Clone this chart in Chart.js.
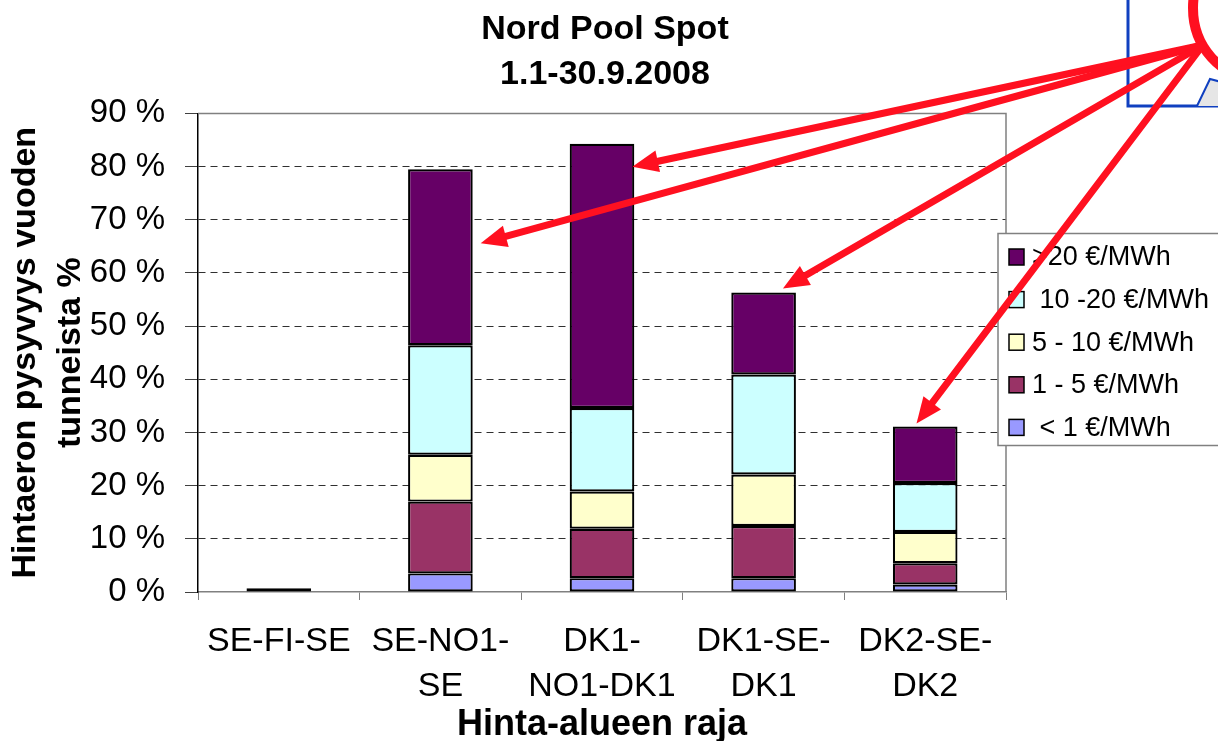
<!DOCTYPE html>
<html><head><meta charset="utf-8">
<script src="https://cdn.jsdelivr.net/npm/chart.js@4/dist/chart.umd.min.js"></script>
<style>html,body{margin:0;padding:0;background:#fff;}#wrap{width:1218px;height:741px;}</style>
</head><body><div id="wrap"><canvas id="c" width="1218" height="741"></canvas></div>
<script>
// ---- data ----
const categories = ['SE-FI-SE', ['SE-NO1-', 'SE'], ['DK1-', 'NO1-DK1'], ['DK1-SE-', 'DK1'], ['DK2-SE-', 'DK2']];
const seriesLabels = [' < 1 €/MWh', '1 - 5 €/MWh', '5 - 10 €/MWh', ' 10 -20 €/MWh', '>20 €/MWh'];
const below1     = [0.7, 3.5, 2.6, 2.6, 1.4];
const from1to5   = [0, 13.5, 9.3, 9.8, 4.0];
const from5to10  = [0, 8.8, 7.0, 9.7, 5.9];
const from10to20 = [0, 20.6, 15.7, 18.8, 9.2];
const above20    = [0, 33.1, 49.7, 15.4, 10.6];
const yTickValues = [0, 10, 20, 30, 40, 50, 60, 70, 80, 90];
const titleLines = ['Nord Pool Spot', '1.1-30.9.2008'];
const yTitleLines = ['Hintaeron pysyvyys vuoden', 'tunneista %'];
const xTitle = 'Hinta-alueen raja';

const seriesValues = [below1, from1to5, from5to10, from10to20, above20];
const seriesColors = ['#9999FF', '#993366', '#FFFFCC', '#CCFFFF', '#660066'];
const FONT = "'Liberation Sans', Arial, sans-serif";

const datasets = seriesValues.map((vals, i) => ({
  label: seriesLabels[i],
  data: vals,
  backgroundColor: seriesColors[i],
  borderColor: '#000',
  borderWidth: 2.2,
  borderSkipped: false,
  categoryPercentage: 1.0,
  barPercentage: 0.4,
  yAxisID: 'y'
}));

const frame = {
  id: 'frame',
  beforeDatasetsDraw(chart) {
    const {ctx, chartArea: a} = chart;
    ctx.save();
    ctx.strokeStyle = '#808080';
    ctx.lineWidth = 1.5;
    ctx.beginPath();
    ctx.moveTo(a.left, a.top); ctx.lineTo(a.right, a.top); ctx.lineTo(a.right, a.bottom);
    ctx.stroke();
    ctx.restore();
  }
};

function arrow(ctx, x0, y0, x1, y1) {
  const ang = Math.atan2(y1 - y0, x1 - x0);
  const L = 26, W = 11;
  const bx = x1 - L * Math.cos(ang), by = y1 - L * Math.sin(ang);
  ctx.beginPath();
  ctx.moveTo(x0, y0);
  ctx.lineTo(bx + 2 * Math.cos(ang), by + 2 * Math.sin(ang));
  ctx.stroke();
  ctx.beginPath();
  ctx.moveTo(x1, y1);
  ctx.lineTo(bx + W * Math.sin(ang), by - W * Math.cos(ang));
  ctx.lineTo(bx - W * Math.sin(ang), by + W * Math.cos(ang));
  ctx.closePath();
  ctx.fill();
}

const annot = {
  id: 'annot',
  afterDraw(chart) {
    const {ctx, chartArea: a} = chart;
    ctx.save();
    // legend box
    const lx = a.right - 8, ly = 233.5, lw = 240, lh = 212;
    ctx.fillStyle = '#fff';
    ctx.fillRect(lx, ly, lw, lh);
    ctx.strokeStyle = '#808080';
    ctx.lineWidth = 1.5;
    ctx.strokeRect(lx, ly, lw, lh);
    const ds = chart.data.datasets;
    ctx.font = '27px ' + FONT;
    ctx.textBaseline = 'middle';
    ctx.textAlign = 'left';
    for (let k = 0; k < ds.length; k++) {
      const d = ds[ds.length - 1 - k];
      const cy = ly + 23.5 + k * 42.6;
      ctx.fillStyle = d.backgroundColor;
      ctx.fillRect(lx + 11, cy - 8, 15, 16);
      ctx.strokeStyle = '#000';
      ctx.lineWidth = 1.5;
      ctx.strokeRect(lx + 11, cy - 8, 15, 16);
      ctx.fillStyle = '#000';
      ctx.fillText(d.label, lx + 34, cy + 1);
    }
    // blue box at top right
    ctx.strokeStyle = '#1040C0';
    ctx.lineWidth = 3;
    ctx.beginPath();
    ctx.moveTo(1128, -5); ctx.lineTo(1128, 106); ctx.lineTo(1225, 106);
    ctx.stroke();
    ctx.beginPath();
    ctx.moveTo(1197, 106); ctx.lineTo(1210, 79); ctx.lineTo(1225, 83); ctx.lineTo(1225, 106); ctx.closePath();
    ctx.fillStyle = '#E6E6E6';
    ctx.fill();
    ctx.lineWidth = 2;
    ctx.beginPath();
    ctx.moveTo(1197, 106); ctx.lineTo(1210, 79); ctx.lineTo(1225, 83);
    ctx.stroke();
    // red ellipse
    ctx.strokeStyle = '#FF1020';
    ctx.lineWidth = 10;
    ctx.beginPath();
    ctx.ellipse(1256, 8, 63, 70, 0, 0, Math.PI * 2);
    ctx.stroke();
    // arrows to bar tops
    const meta = chart.getDatasetMeta(ds.length - 1);
    const offs = [null, [8, 74], [-2, 23], [-13, -4], [-41, -3]];
    ctx.fillStyle = '#FF1020';
    ctx.lineWidth = 7;
    ctx.lineCap = 'round';
    offs.forEach((o, i) => {
      if (!o) return;
      const el = meta.data[i];
      const right = el.x + el.width / 2;
      arrow(ctx, 1203, 45, right + o[0], el.y + o[1]);
    });
    ctx.restore();
  }
};

new Chart(document.getElementById('c'), {
  type: 'bar',
  data: { labels: categories, datasets },
  options: {
    responsive: false,
    animation: false,
    devicePixelRatio: 1,
    layout: { padding: { left: 0, right: 8, top: 0, bottom: 0 } },
    plugins: {
      legend: { display: false },
      tooltip: { enabled: false },
      title: {
        display: true,
        text: titleLines,
        color: '#000',
        font: { family: FONT, size: 34, weight: 'bold', lineHeight: 1.3 },
        padding: { top: 8, bottom: 17 }
      }
    },
    scales: {
      x: {
        stacked: true,
        afterFit(s) { s.height = 149; },
        grid: { display: true, drawOnChartArea: false, drawTicks: true, tickLength: 8, color: '#808080', tickColor: '#808080', offset: true },
        border: { display: true, color: '#808080', width: 1.5 },
        ticks: { color: '#000', font: { family: FONT, size: 34, lineHeight: 1.3 }, padding: 20, maxRotation: 0, autoSkip: false },
        title: { display: true, text: xTitle, color: '#000', font: { family: FONT, size: 36, weight: 'bold', lineHeight: 1.0 }, padding: { top: 0, bottom: -2 } }
      },
      y: {
        stacked: true,
        min: 0, max: 90,
        afterFit(s) { s.width = 198; },
        afterBuildTicks(s) { s.ticks = yTickValues.map(v => ({ value: v })); },
        grid: {
          color: (c) => (c.tick && (c.tick.value === 0 || c.tick.value === 90)) ? 'rgba(0,0,0,0)' : '#303030',
          lineWidth: 1, tickLength: 13, tickColor: '#404040', tickBorderDash: []
        },
        border: { display: true, color: '#000', width: 1.5, dash: [7, 5] },
        ticks: { color: '#000', font: { family: FONT, size: 33 }, padding: 20, callback: (v) => v + ' %' },
        title: { display: true, text: yTitleLines, color: '#000', font: { family: FONT, size: 34, weight: 'bold', lineHeight: 1.32 }, padding: { top: 3, bottom: 0 } }
      },
      yRight: {
        type: 'linear',
        position: 'right',
        display: true,
        afterFit(s) { s.width = 204; },
        grid: { display: false, drawOnChartArea: false, drawTicks: false },
        border: { display: false },
        ticks: { display: false }
      }
    }
  },
  plugins: [frame, annot]
});
</script></body></html>
